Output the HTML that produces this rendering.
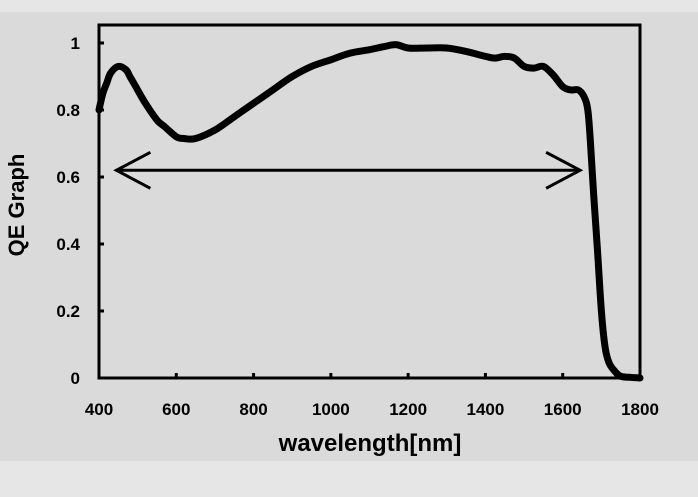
<!DOCTYPE html>
<html><head><meta charset="utf-8"><style>
html,body{margin:0;padding:0;background:#e4e4e4;}
svg{display:block;font-family:"Liberation Sans",sans-serif;font-weight:bold;}
</style></head><body>
<svg width="698" height="497" viewBox="0 0 698 497">
<rect x="0" y="0" width="698" height="497" fill="#e6e6e6"/>
<rect x="0" y="12" width="698" height="449" fill="#dadada"/>
<g id="ticks"></g>
<rect x="99" y="25" width="541" height="353" fill="none" stroke="#000" stroke-width="3"/>
<path id="curve" fill="none" stroke="#000" stroke-width="7" stroke-linejoin="round" stroke-linecap="round"/>
<g id="arrow" stroke="#000" stroke-width="3" fill="none"></g>
<text x="370" y="451" font-size="24" text-anchor="middle">wavelength[nm]</text>
<text transform="translate(24,205) rotate(-90)" font-size="22" text-anchor="middle">QE Graph</text>
</svg>
<script>
const wl=[400,410,420,430,450,470,480,500,520,550,570,600,620,650,700,750,800,850,900,950,1000,1050,1100,1140,1170,1200,1250,1300,1350,1400,1425,1450,1475,1500,1525,1550,1575,1600,1620,1640,1655,1665,1672,1680,1690,1700,1710,1720,1735,1750,1775,1800];
const qe=[0.80,0.85,0.88,0.91,0.93,0.92,0.90,0.86,0.82,0.77,0.75,0.72,0.715,0.715,0.74,0.78,0.82,0.86,0.90,0.93,0.95,0.97,0.98,0.99,0.995,0.985,0.985,0.985,0.975,0.96,0.955,0.96,0.955,0.93,0.925,0.93,0.905,0.87,0.86,0.86,0.84,0.80,0.70,0.55,0.38,0.20,0.09,0.045,0.02,0.005,0.002,0];
const xTicks=[400,600,800,1000,1200,1400,1600,1800];
const yTicks=[0,0.2,0.4,0.6,0.8,1];
const yTickLabels=["0","0.2","0.4","0.6","0.8","1"];
const arrowRange=[445,1645];
const arrowLevel=0.62;
const sx=v=>99+(v-400)/1400*541;
const sy=v=>378-v*335;
const NS="http://www.w3.org/2000/svg";
const ticks=document.getElementById('ticks');
xTicks.forEach(t=>{
 const l=document.createElementNS(NS,'line');
 l.setAttribute('x1',sx(t));l.setAttribute('x2',sx(t));l.setAttribute('y1',378);l.setAttribute('y2',373);
 l.setAttribute('stroke','#000');l.setAttribute('stroke-width','3');
 
 
 ticks.appendChild(l);
 const tx=document.createElementNS(NS,'text');
 tx.setAttribute('x',sx(t));tx.setAttribute('y',415);tx.setAttribute('font-size','17');tx.setAttribute('text-anchor','middle');
 tx.textContent=t;
 
 
 ticks.appendChild(tx);
});
yTicks.forEach((t,i)=>{
 const l=document.createElementNS(NS,'line');
 l.setAttribute('x1',99);l.setAttribute('x2',104);l.setAttribute('y1',sy(t));l.setAttribute('y2',sy(t));
 l.setAttribute('stroke','#000');l.setAttribute('stroke-width','3');
 
 
 ticks.appendChild(l);
 const tx=document.createElementNS(NS,'text');
 tx.setAttribute('x',80);tx.setAttribute('y',sy(t)+6);tx.setAttribute('font-size','17');tx.setAttribute('text-anchor','end');
 tx.textContent=yTickLabels[i];
 
 
 ticks.appendChild(tx);
});
const P=wl.map((w,i)=>[sx(w),sy(qe[i])]);
let d='M'+P[0][0].toFixed(1)+','+P[0][1].toFixed(1);
for(let i=0;i<P.length-1;i++){
 const p0=P[Math.max(i-1,0)],p1=P[i],p2=P[i+1],p3=P[Math.min(i+2,P.length-1)];
 const c1=[p1[0]+(p2[0]-p0[0])/6,p1[1]+(p2[1]-p0[1])/6];
 const c2=[p2[0]-(p3[0]-p1[0])/6,p2[1]-(p3[1]-p1[1])/6];
 d+=`C${c1[0].toFixed(1)},${c1[1].toFixed(1)} ${c2[0].toFixed(1)},${c2[1].toFixed(1)} ${p2[0].toFixed(1)},${p2[1].toFixed(1)}`;
}
document.getElementById('curve').setAttribute('d',d);
const a=document.getElementById('arrow');
const x1=sx(arrowRange[0]),x2=sx(arrowRange[1]),ay=sy(arrowLevel);
a.innerHTML=`<line x1="${x1}" y1="${ay}" x2="${x2}" y2="${ay}"/><polyline points="${x1+34},${ay-18} ${x1},${ay} ${x1+34},${ay+18}"/><polyline points="${x2-34},${ay-18} ${x2},${ay} ${x2-34},${ay+18}"/>`;
</script>
</body></html>
